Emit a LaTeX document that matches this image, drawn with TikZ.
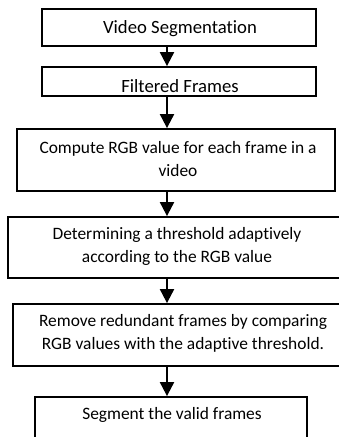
\documentclass[tikz,border=0pt]{standalone}
\usepackage{fontspec}
\setmainfont{Carlito}[Ligatures=NoCommon]
\usetikzlibrary{arrows.meta}
\begin{document}
\begin{tikzpicture}[x=1pt,y=1pt,
  box/.style={draw=black,line width=1.8pt,fill=white,inner sep=0pt},
  lbl/.style={font=\fontsize{17.4}{23}\selectfont,align=center,anchor=base,inner sep=0pt},
  big/.style={font=\fontsize{18.7}{23}\selectfont},
  arr/.style={line width=2pt,-{Triangle[length=14pt,width=14pt]}}]
\useasboundingbox (0,0) rectangle (339,-437);
\coordinate (ax) at (167,0);
% boxes
\node[box,minimum width=274pt,minimum height=37pt] (b1) at (179,-27.5) {};
\node[box,minimum width=274pt,minimum height=29pt] (b2) at (179,-81.5) {};
\node[box,minimum width=318pt,minimum height=62pt] (b3) at (176,-160) {};
\node[box,minimum width=338pt,minimum height=61pt] (b4) at (177,-247.5) {};
\node[box,minimum width=340pt,minimum height=62pt] (b5) at (183,-335) {};
\node[box,minimum width=272pt,minimum height=52pt] (b6) at (171,-423) {};
% texts
\node[lbl,big] (t1) at (180,-33) {Video Segmentation};
\node[lbl,big] (t2) at (180,-92) {Filtered Frames};
\node[lbl] (t3) at (178,-176) {Compute RGB value for each frame in a\\video};
\node[lbl] (t4) at (177,-262) {Determining a threshold adaptively\\according to the RGB value};
\node[lbl] (t5) at (183,-349) {Remove redundant frames by comparing\\RGB values with the adaptive threshold.};
\node[lbl] (t6) at (172,-419) {Segment the valid frames};
% arrows
\draw[arr] (b1.south -| ax) -- (b2.north -| ax);
\draw[arr] (b2.south -| ax) -- (b3.north -| ax);
\draw[arr] (b3.south -| ax) -- (b4.north -| ax);
\draw[arr] (b4.south -| ax) -- (b5.north -| ax);
\draw[arr] (b5.south -| ax) -- (b6.north -| ax);
\end{tikzpicture}
\end{document}
